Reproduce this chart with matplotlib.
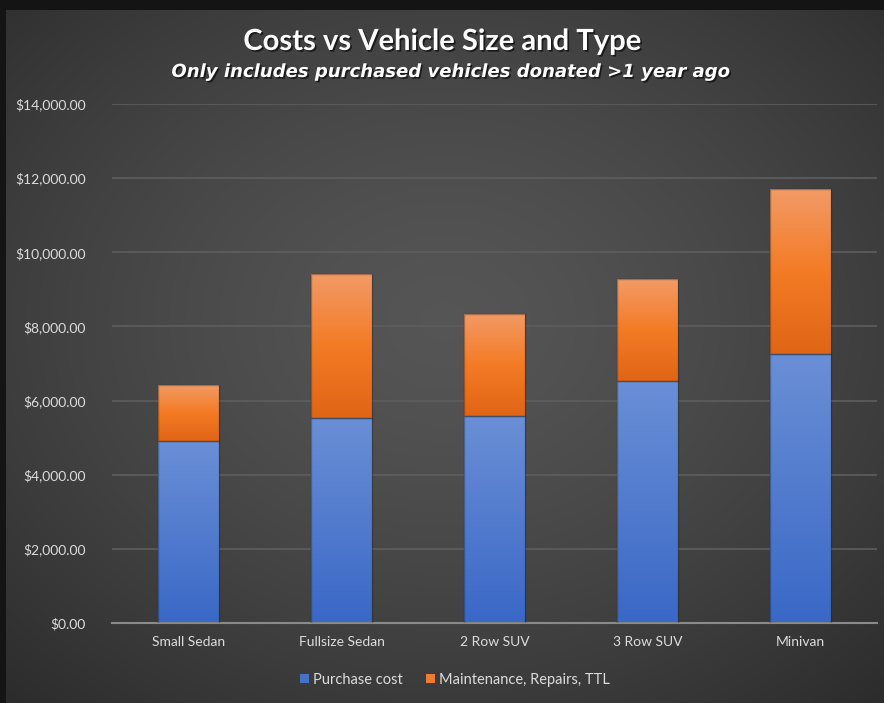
import numpy as np
import matplotlib.pyplot as plt
from matplotlib.patches import Patch, Rectangle
from matplotlib.colors import LinearSegmentedColormap
from matplotlib.ticker import FuncFormatter
import matplotlib.patheffects as pe

# ── Data ──────────────────────────────────────────────────────
categories = ["Small Sedan", "Fullsize Sedan", "2 Row SUV", "3 Row SUV", "Minivan"]
purchase_cost = [4900, 5530, 5580, 6540, 7250]
maintenance = [1530, 3890, 2760, 2750, 4450]
series_names = ["Purchase cost", "Maintenance, Repairs, TTL"]
y_ticks = [0, 2000, 4000, 6000, 8000, 10000, 12000, 14000]

# ── Style ─────────────────────────────────────────────────────
plt.rcParams['font.family'] = ['Lato', 'DejaVu Sans']
text_col = "#dcdcdc"
blue_grad = ["#6a8fd6", "#3a68c6"]
orange_grad = ["#f29a66", "#f47b25", "#e06516"]

fig = plt.figure(figsize=(8.84, 7.03), dpi=100)
fig.patch.set_facecolor("#141414")

# background panel with soft radial gradient
W, H = 884, 703
px0, px1, py0, py1 = 6, 884, 10, 703
bg = fig.add_axes([px0 / W, 0, (px1 - px0) / W, (py1 - py0) / H], zorder=0)
xx, yy = np.meshgrid(np.linspace(-1, 1, 300), np.linspace(-1, 1, 240))
r = np.sqrt((xx / 1.05) ** 2 + ((yy + 0.1) / 1.05) ** 2)
shade = np.clip(0.335 - 0.1 * r ** 1.4, 0.17, 0.34)
bg.imshow(np.dstack([shade] * 3), aspect="auto", extent=(0, 1, 0, 1))
bg.axis("off")

ax = fig.add_axes([112 / W, 80 / H, (877 - 112) / W, (623 - 104) / H], zorder=1)
ax.patch.set_alpha(0)

x = np.arange(len(categories))
width = 0.395


def grad_bars(xs, bottoms, heights, colors):
    cmap = LinearSegmentedColormap.from_list("g", colors[::-1])
    img = np.linspace(0, 1, 100).reshape(-1, 1)
    for xi, b, h in zip(xs, bottoms, heights):
        rect = Rectangle((xi - width / 2, b), width, h, facecolor="none",
                         edgecolor=(0.12, 0.12, 0.12, 0.35), linewidth=1.0, zorder=3)
        ax.add_patch(rect)
        im = ax.imshow(img, cmap=cmap, aspect="auto", origin="lower",
                       extent=(xi - width / 2, xi + width / 2, b, b + h), zorder=2)
        im.set_clip_path(rect)


grad_bars(x, [0] * len(x), purchase_cost, blue_grad)
grad_bars(x, purchase_cost, maintenance, orange_grad)

ax.set_xlim(-0.5, len(categories) - 0.5)
ax.set_ylim(0, 14000)
ax.set_yticks(y_ticks)
ax.yaxis.set_major_formatter(FuncFormatter(lambda v, p: f"${v:,.2f}"))
ax.set_xticks(x)
ax.set_xticklabels(categories)
ax.tick_params(axis="both", length=0, colors=text_col, labelsize=10)
ax.tick_params(axis="y", pad=19)
ax.tick_params(axis="x", pad=9)
ax.grid(axis="y", color="#5e5e5e", linewidth=1.2, zorder=0)
ax.set_axisbelow(True)
for s in ["top", "right", "left"]:
    ax.spines[s].set_visible(False)
ax.spines["bottom"].set_color("#8a8a8a")
ax.spines["bottom"].set_linewidth(1.5)

shadow = [pe.withSimplePatchShadow(offset=(1.2, -1.2), shadow_rgbFace="black", alpha=0.6)]
fig.text(0.5, 1 - 42 / H, "Costs vs Vehicle Size and Type", ha="center", va="center",
         fontsize=21, fontweight="bold", color="white", path_effects=shadow)
fig.text(450 / W, 1 - 72 / H, "Only includes purchased vehicles donated >1 year ago",
         ha="center", va="center", fontsize=13, fontweight="bold", fontstyle="italic",
         color="white", family=["DejaVu Sans"], path_effects=shadow)

handles = [Patch(facecolor="#4472c4"), Patch(facecolor="#ed7d31")]
leg = fig.legend(handles, series_names, loc="center", bbox_to_anchor=(455 / W, 1 - 680 / H),
                 ncol=2, frameon=False, fontsize=10.5, handlelength=0.6, handleheight=0.6,
                 handletextpad=0.3, columnspacing=1.6)
for t in leg.get_texts():
    t.set_color(text_col)

fig.savefig("out.png", dpi=100, facecolor=fig.get_facecolor())
